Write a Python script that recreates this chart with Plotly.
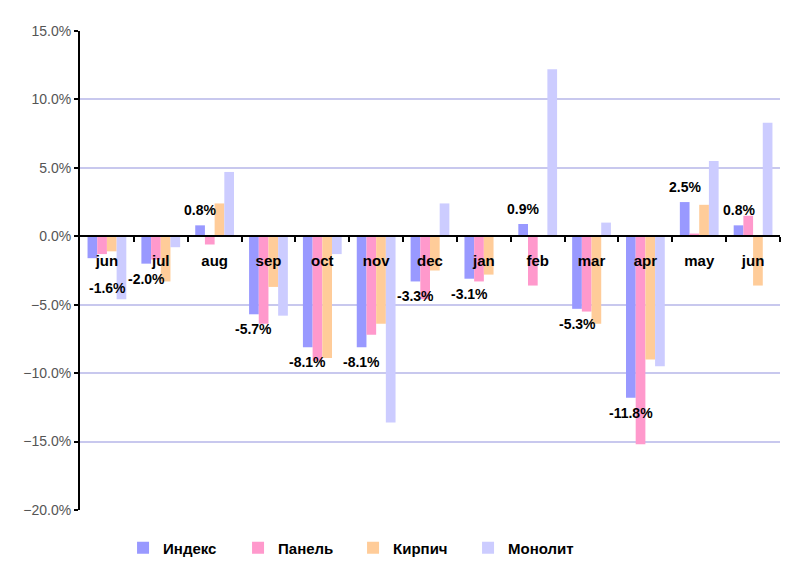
import plotly.graph_objects as go

months = ["jun", "jul", "aug", "sep", "oct", "nov", "dec", "jan", "feb", "mar", "apr", "may", "jun"]
index_vals = [-1.6, -2.0, 0.8, -5.7, -8.1, -8.1, -3.3, -3.1, 0.9, -5.3, -11.8, 2.5, 0.8]
panel_vals = [-1.3, -1.7, -0.6, -6.4, -9.1, -7.2, -4.6, -3.3, -3.6, -5.5, -15.2, 0.2, 1.5]
kirpich_vals = [-1.1, -3.3, 2.4, -3.7, -8.9, -6.4, -2.5, -2.8, 0.0, -6.4, -9.0, 2.3, -3.6]
monolit_vals = [-4.6, -0.8, 4.7, -5.8, -1.3, -13.6, 2.4, 0.0, 12.2, 1.0, -9.5, 5.5, 8.3]

series_names = ["Индекс", "Панель", "Кирпич", "Монолит"]
colors = ["#9999FF", "#FF99CC", "#FFCC99", "#CCCCFF"]

x = list(range(len(months)))
FONT = "Arial, Liberation Sans, sans-serif"
BARGAP = 0.28
Y_MIN, Y_MAX = -20, 15

fig = go.Figure()
for name, vals, col in zip(series_names, [index_vals, panel_vals, kirpich_vals, monolit_vals], colors):
    fig.add_trace(go.Bar(x=x, y=vals, name=name, marker=dict(color=col, line=dict(width=0))))

# data labels for the Индекс series
bar_w = (1 - BARGAP) / 4
off = -1.5 * bar_w
annotations = []
for i, v in enumerate(index_vals):
    xs, ys = 0, (15 if v >= 0 else -15)
    if i == 0:
        xs, ys = 15, -30
    annotations.append(dict(x=i + off, y=v, xref="x", yref="y", text=f"{v:.1f}%",
                            showarrow=False, xshift=xs, yshift=ys,
                            font=dict(family=FONT, size=14, color="black", weight="bold")))

fig.update_layout(
    width=800, height=580,
    margin=dict(l=72, r=28, t=23, b=78, autoexpand=False),
    paper_bgcolor="white", plot_bgcolor="white",
    barmode="group", bargap=BARGAP, bargroupgap=0,
    font=dict(family=FONT),
    annotations=annotations,
    legend=dict(orientation="h", xref="container", yref="container",
                x=0.1438, y=0.0688, xanchor="left", yanchor="middle",
                entrywidth=70, entrywidthmode="pixels",
                font=dict(family=FONT, size=15, color="black", weight="bold")),
    xaxis=dict(range=[-0.5, len(months) - 0.5], tickmode="array", tickvals=x, ticktext=months,
               ticks="", showgrid=False, zeroline=False, automargin=False,
               showline=True, linecolor="black", linewidth=2,
               anchor="free", position=(0 - Y_MIN) / (Y_MAX - Y_MIN),
               ticklabelstandoff=11,
               tickfont=dict(family=FONT, size=15, color="black", weight="bold"),
               minor=dict(tickmode="array", tickvals=[i + 0.5 for i in x], ticks="outside",
                          ticklen=5, tickwidth=2, tickcolor="black", showgrid=False)),
    yaxis=dict(range=[Y_MIN, Y_MAX], dtick=5, tick0=0, tickformat=".1f", ticksuffix="%",
               showgrid=True, gridcolor="#C8C8EE", gridwidth=1.5, automargin=False,
               zeroline=False, showline=True, linecolor="black", linewidth=2,
               ticks="outside", ticklen=4, tickwidth=2, tickcolor="black",
               tickfont=dict(family=FONT, size=14, color="#555555")),
)

fig.write_html("out.html")
